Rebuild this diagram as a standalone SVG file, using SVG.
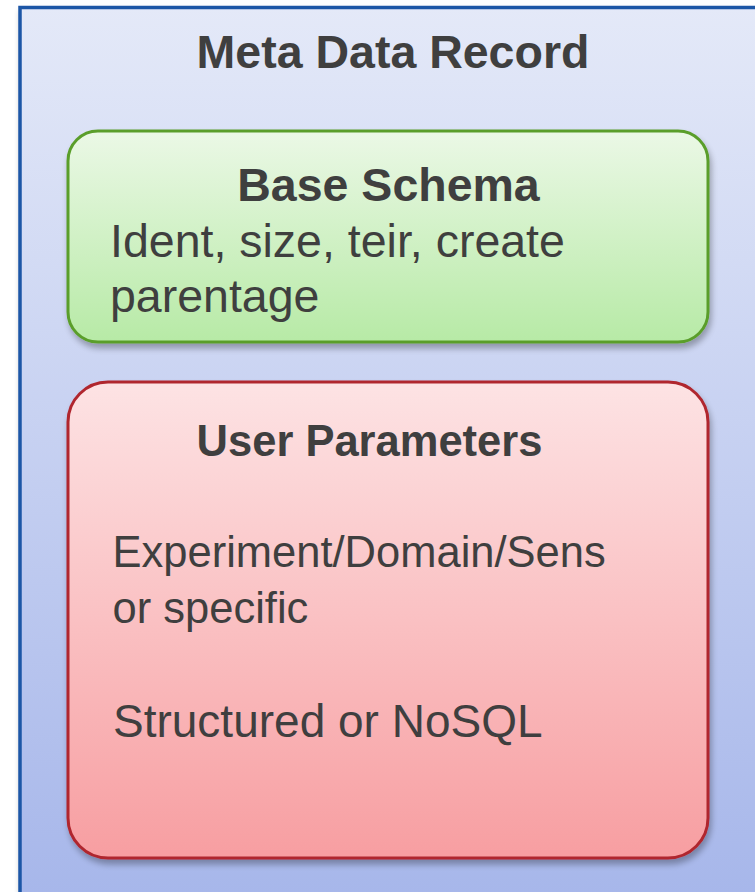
<svg xmlns="http://www.w3.org/2000/svg" width="755" height="892" viewBox="0 0 755 892">
<defs>
<linearGradient id="gOuter" x1="0" y1="0" x2="0" y2="1">
<stop offset="0" stop-color="#e4e9f8"/>
<stop offset="1" stop-color="#a6b6ea"/>
</linearGradient>
<linearGradient id="gGreen" x1="0" y1="0" x2="0" y2="1">
<stop offset="0" stop-color="#ebf8e6"/>
<stop offset="1" stop-color="#b7eaa6"/>
</linearGradient>
<linearGradient id="gRed" x1="0" y1="0" x2="0" y2="1">
<stop offset="0" stop-color="#fde3e4"/>
<stop offset="1" stop-color="#f79ea1"/>
</linearGradient>
<filter id="shadow" x="-10%" y="-10%" width="120%" height="125%">
<feGaussianBlur in="SourceAlpha" stdDeviation="3"/>
<feOffset dx="2" dy="5" result="b"/>
<feComponentTransfer><feFuncA type="linear" slope="0.3"/></feComponentTransfer>
<feMerge><feMergeNode/><feMergeNode in="SourceGraphic"/></feMerge>
</filter>
</defs>
<style>
text{font-family:"Liberation Sans",Arial,sans-serif;fill:#3f3f3f}
.b{font-weight:bold}
</style>
<rect width="755" height="892" fill="#ffffff"/>
<g id="outer">
<rect x="20" y="7.5" width="760" height="900" fill="url(#gOuter)" stroke="#1d56a6" stroke-width="3.5" filter="url(#shadow)"/>
<text class="b" x="393" y="68" font-size="46.5" text-anchor="middle">Meta Data Record</text>
</g>
<g id="base-schema">
<rect x="68" y="131" width="640" height="211" rx="30" fill="url(#gGreen)" stroke="#5a9e2a" stroke-width="3" filter="url(#shadow)"/>
<text class="b" x="388.5" y="200.5" font-size="46.5" text-anchor="middle">Base Schema</text>
<text x="110" y="256.5" font-size="46.5">Ident, size, teir, create</text>
<text x="110" y="311.5" font-size="46.5">parentage</text>
</g>
<g id="user-parameters">
<rect x="68" y="382" width="640" height="476" rx="40" fill="url(#gRed)" stroke="#b0262e" stroke-width="3" filter="url(#shadow)"/>
<text class="b" x="369.5" y="455.5" font-size="43.5" text-anchor="middle">User Parameters</text>
<text x="112.5" y="566.5" font-size="43.5">Experiment/Domain/Sens</text>
<text x="112.5" y="623" font-size="43.5">or specific</text>
<text x="113" y="736.5" font-size="46">Structured or NoSQL</text>
</g>
<g id="connectors"/>
</svg>
